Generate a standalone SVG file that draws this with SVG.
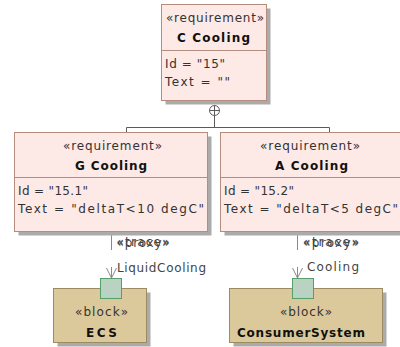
<svg xmlns="http://www.w3.org/2000/svg" width="400" height="347" viewBox="0 0 400 347">
<style>
  text { font-family: "DejaVu Sans", Verdana, sans-serif; font-size: 12px; fill: #333333; }
  .name { font-weight: bold; fill: #111111; }
  .req { fill: #fde9e5; stroke: #b58d7e; stroke-width: 1; }
  .div { stroke: #b58d7e; stroke-width: 1; }
  .shadow { fill: #ababab; }
  .blk { fill: #dcc99b; stroke: #9c8a62; stroke-width: 1; }
  .port { fill: #bad2c1; stroke: #55a06a; stroke-width: 1; }
  .own { stroke: #5a5a5a; stroke-width: 1; fill: none; }
  .dep { stroke: #8a8a8a; stroke-width: 1; fill: none; }
  .lbl { fill: #444444; }
</style>
<defs>
  <marker id="open" markerWidth="12" markerHeight="12" refX="10" refY="5" orient="auto" markerUnits="userSpaceOnUse">
    <path d="M0,0 L10,5 L0,10" fill="none" stroke="#8a8a8a" stroke-width="1"/>
  </marker>
</defs>

<g id="connectors">
  <path class="own" d="M214.5,115.5 V127.5 M126.5,132 V127.5 H329.5 V132"/>
  <circle class="own" cx="214.5" cy="110.5" r="5" fill="#ffffff"/>
  <path class="own" d="M214.5,105.5 V115.5 M209.5,110.5 H219.5"/>
  <path class="dep" d="M111.5,231 V278" stroke-dasharray="19 17" marker-end="url(#open)"/>
  <path class="dep" d="M297.5,231 V278" stroke-dasharray="19 17" marker-end="url(#open)"/>
  <text class="lbl" x="116.5" y="246" textLength="53" lengthAdjust="spacing">«trace»</text>
  <text class="lbl" x="116.5" y="246.5" textLength="53" lengthAdjust="spacing">«proxy»</text>
  <text class="lbl" x="117" y="271.5" textLength="89" lengthAdjust="spacing">LiquidCooling</text>
  <text class="lbl" x="303" y="246" textLength="56" lengthAdjust="spacing">«trace»</text>
  <text class="lbl" x="303" y="246.5" textLength="56" lengthAdjust="spacing">«proxy»</text>
  <text class="lbl" x="307" y="271" textLength="52" lengthAdjust="spacing">Cooling</text>
</g>

<g id="CCooling">
  <rect class="shadow" x="165.5" y="8.5" width="105" height="96"/>
  <rect class="req" x="161.5" y="4.5" width="105" height="96"/>
  <line class="div" x1="161.5" y1="50.5" x2="266.5" y2="50.5"/>
  <text x="166" y="22" textLength="98" lengthAdjust="spacing">«requirement»</text>
  <text class="name" x="177" y="42" textLength="73" lengthAdjust="spacing">C Cooling</text>
  <text x="165" y="67.5" textLength="60" lengthAdjust="spacing">Id = "15"</text>
  <text x="165" y="86" textLength="65" lengthAdjust="spacing">Text = ""</text>
</g>

<g id="GCooling">
  <rect class="shadow" x="18.5" y="136.5" width="193" height="99"/>
  <rect class="req" x="14.5" y="132.5" width="193" height="99"/>
  <line class="div" x1="14.5" y1="177.5" x2="207.5" y2="177.5"/>
  <text x="63" y="150" textLength="99" lengthAdjust="spacing">«requirement»</text>
  <text class="name" x="75" y="170" textLength="72" lengthAdjust="spacing">G Cooling</text>
  <text x="18" y="195" textLength="70" lengthAdjust="spacing">Id = "15.1"</text>
  <text x="18" y="213" textLength="186" lengthAdjust="spacing">Text = "deltaT&lt;10 degC"</text>
</g>

<g id="ACooling">
  <rect class="shadow" x="224.5" y="136.5" width="181" height="99"/>
  <rect class="req" x="220.5" y="132.5" width="181" height="99"/>
  <line class="div" x1="220.5" y1="177.5" x2="401.5" y2="177.5"/>
  <text x="260" y="150" textLength="100" lengthAdjust="spacing">«requirement»</text>
  <text class="name" x="275" y="170" textLength="73" lengthAdjust="spacing">A Cooling</text>
  <text x="224" y="195" textLength="70" lengthAdjust="spacing">Id = "15.2"</text>
  <text x="224" y="213" textLength="174" lengthAdjust="spacing">Text = "deltaT&lt;5 degC"</text>
</g>

<g id="ECS">
  <rect class="shadow" x="57.5" y="292.5" width="93" height="54"/>
  <rect class="blk" x="53.5" y="288.5" width="93" height="54"/>
  <text x="75" y="316" textLength="53" lengthAdjust="spacing">«block»</text>
  <text class="name" x="86" y="336.5" textLength="31" lengthAdjust="spacing">ECS</text>
  <rect class="port" x="100.5" y="278.5" width="21" height="20"/>
</g>

<g id="ConsumerSystem">
  <rect class="shadow" x="233.5" y="292.5" width="153" height="54"/>
  <rect class="blk" x="229.5" y="288.5" width="153" height="54"/>
  <text x="280" y="316" textLength="52" lengthAdjust="spacing">«block»</text>
  <text class="name" x="237" y="336.5" textLength="128" lengthAdjust="spacing">ConsumerSystem</text>
  <rect class="port" x="292.5" y="278.5" width="21" height="20"/>
</g>
</svg>
